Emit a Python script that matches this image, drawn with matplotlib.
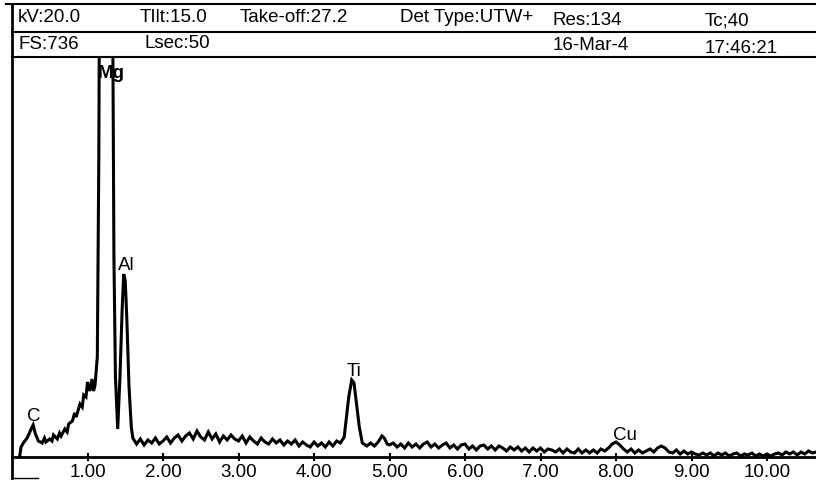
import numpy as np
import matplotlib
matplotlib.use("Agg")
import matplotlib.pyplot as plt
from matplotlib.lines import Line2D

plt.rcParams['font.family'] = ['Liberation Sans', 'DejaVu Sans']

# ---- header info ----
header_row1 = ["kV:20.0", "TIlt:15.0", "Take-off:27.2", "Det Type:UTW+", "Res:134", "Tc;40"]
header_row2 = ["FS:736", "Lsec:50", "16-Mar-4", "17:46:21"]

# ---- spectrum data (energy keV, counts) ----
low_energy = [0.10, 0.12, 0.15, 0.20, 0.23, 0.26, 0.28, 0.31, 0.35, 0.40, 0.43, 0.45, 0.50,
              0.53, 0.55, 0.60, 0.63, 0.65, 0.70, 0.73, 0.75, 0.80, 0.83, 0.85, 0.90,
              0.93, 0.95, 0.98, 1.00, 1.03, 1.06, 1.08, 1.10]
low_counts = [0, 10, 14, 19, 24, 29, 32, 23, 16, 14, 19, 15, 18,
              16, 22, 18, 24, 21, 28, 25, 33, 36, 44, 40, 53,
              50, 62, 60, 75, 66, 78, 66, 72]

mgal_energy = [1.13, 1.15, 1.17, 1.20, 1.25, 1.30, 1.33, 1.35, 1.37, 1.40, 1.43, 1.46,
               1.48, 1.50, 1.52, 1.55, 1.58]
mgal_counts = [100, 300, 700, 2000, 3000, 1500, 500, 200, 80, 28, 80, 150,
               183, 176, 140, 70, 30]

bg1_start, bg_step = 1.60, 0.05
bg1_counts = [19, 13, 18, 12, 17, 14, 19, 13, 16, 20, 14, 19, 22, 16, 21, 24, 18, 26, 20,
              17, 25, 18, 23, 15, 21, 17, 22, 18, 16, 21, 14, 20, 16, 13, 19, 15, 13, 18,
              14, 17, 12, 16, 13, 17, 11, 15, 12, 10, 15, 11, 14, 10, 15, 11, 16]

ti_energy = [4.35, 4.40, 4.43, 4.46, 4.50, 4.53, 4.56, 4.60, 4.64, 4.70, 4.75, 4.80,
             4.85, 4.90, 4.93, 4.97, 5.00]
ti_counts = [14, 20, 40, 60, 77, 74, 55, 30, 14, 11, 14, 11, 15, 21, 19, 13, 12]

bg2_start = 5.05
bg2_counts = [14, 10, 13, 9, 14, 10, 13, 9, 13, 15, 10, 13, 9, 12, 14, 9, 12, 8, 12, 13,
              8, 11, 7, 11, 12, 8, 11, 7, 11, 9, 6, 10, 7, 10, 6, 9, 5, 9, 6, 9,
              5, 8, 7, 5, 8, 4, 8, 5, 4, 8, 4, 7, 4, 7, 4, 8, 6, 9, 13, 15,
              12, 8, 5, 8, 4, 7, 4, 6, 8, 5, 9, 11, 9, 5, 4, 7, 3, 6, 3, 5,
              3, 2, 4, 2, 4, 1, 4, 2, 4, 1, 3, 4, 1, 3, 2, 4, 1, 3, 1, 3,
              1, 3, 4, 2, 5, 3, 5, 2, 5, 3, 6, 4, 5]

tick_values = [1, 2, 3, 4, 5, 6, 7, 8, 9, 10]
tick_labels = ["1.00", "2.00", "3.00", "4.00", "5.00", "6.00", "7.00", "8.00", "9.00", "10.00"]

peak_labels = ["C", "Mg", "Al", "Ti", "Cu"]
peak_label_x = [0.29, 1.31, 1.52, 4.53, 8.12]
peak_label_y = [37, 380, 188, 82, 18]

# ---- assemble ----
bg1_energy = np.round(bg1_start + bg_step * np.arange(len(bg1_counts)), 2)
bg2_energy = np.round(bg2_start + bg_step * np.arange(len(bg2_counts)), 2)
energy = np.concatenate([low_energy, mgal_energy, bg1_energy, ti_energy, bg2_energy])
counts = np.concatenate([low_counts, mgal_counts, bg1_counts, ti_counts, bg2_counts])

W, H = 816, 481
fig = plt.figure(figsize=(W / 100, H / 100), dpi=100)

def fx(px):
    return px / W

def fy(py):
    return 1 - py / H

FS = 13.5
ax_left, ax_right, ax_top, ax_bottom = 12, 816, 58, 458
ax = fig.add_axes([fx(ax_left), fy(ax_bottom), fx(ax_right - ax_left), (ax_bottom - ax_top) / H])
ax.plot(energy, counts, color='black', lw=2.2, solid_joinstyle='miter')
ax.set_xlim(0, (ax_right - ax_left) / 75.5)
ax.set_ylim(0, 400)
for s in ['top', 'right', 'left']:
    ax.spines[s].set_visible(False)
ax.spines['bottom'].set_linewidth(2)
ax.set_yticks([])
ax.set_xticks(tick_values)
ax.set_xticklabels(tick_labels, fontsize=FS)
ax.tick_params(axis='x', direction='inout', length=6, width=1.5, pad=1)

for lab, x, y in zip(peak_labels, peak_label_x, peak_label_y):
    ax.text(x, y, lab, ha='center', va='baseline', fontsize=FS,
            fontweight='bold' if lab == 'Mg' else 'normal')

# header lines
lw = 1.5
fig.add_artist(Line2D([fx(6), fx(816)], [fy(5), fy(5)], color='black', lw=lw))
fig.add_artist(Line2D([fx(12), fx(816)], [fy(33), fy(33)], color='black', lw=lw))
fig.add_artist(Line2D([fx(12), fx(816)], [fy(58), fy(58)], color='black', lw=lw))
fig.add_artist(Line2D([fx(12), fx(12)], [fy(5), fy(479)], color='black', lw=2))
fig.add_artist(Line2D([fx(12), fx(38)], [fy(479), fy(479)], color='black', lw=1))

row1_x = [18, 140, 240, 400, 553, 705]
row1_y = [22, 22, 22, 22, 25, 25]
for t, x, y in zip(header_row1, row1_x, row1_y):
    fig.text(fx(x), fy(y), t, ha='left', va='baseline', fontsize=FS)
row2_x = [18, 145, 553, 705]
row2_y = [49, 48, 50, 53]
for t, x, y in zip(header_row2, row2_x, row2_y):
    fig.text(fx(x), fy(y), t, ha='left', va='baseline', fontsize=FS)

fig.savefig("out.png", dpi=100)
